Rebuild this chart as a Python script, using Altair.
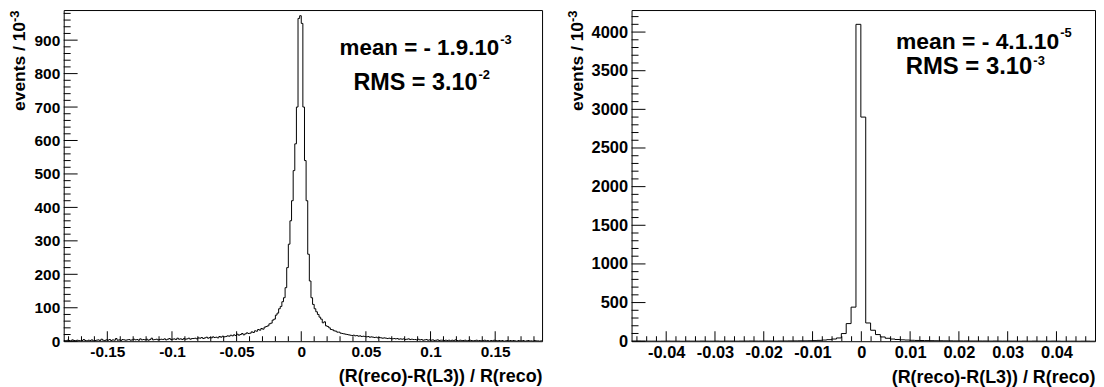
import altair as alt
import numpy as np
import pandas as pd

FONT = "Liberation Sans"
X_TITLE = "(R(reco)-R(L3)) / R(reco)"
Y_TITLE_MAIN = "events / 10"
Y_TITLE_SUP = "-3"

# ---------------- left histogram (296 bins of 0.00125) ----------------
left_lo, left_hi, left_bw = -0.18375, 0.18625, 0.00125
left_counts = [
    2, 1, 3, 2, 0, 4, 2, 1, 3, 2, 1, 2, 5, 2, 1, 3, 2, 4, 1, 2,
    3, 4, 2, 6, 3, 2, 4, 3, 5, 2, 4, 3, 8, 3, 4, 2, 5, 4, 3, 4,
    5, 3, 4, 6, 4, 5, 3, 7, 4, 5, 4, 6, 3, 5, 9, 4, 5, 6, 4, 5,
    6, 5, 7, 4, 6, 8, 5, 6, 7, 5, 9, 6, 7, 5, 8, 6, 7, 9, 6, 8,
    8, 9, 7, 10, 9, 11, 8, 10, 12, 9, 11, 10, 13, 11, 12, 10, 14, 12, 15, 13,
    14, 16, 15, 18, 16, 19, 17, 21, 18, 20, 23, 19, 22, 25, 23,
    24, 28, 26, 31, 30, 35, 33, 38, 36, 42, 44, 46, 52, 54, 63, 66, 78, 84, 97, 104,
    118, 130, 160, 220, 290, 360, 420, 510, 590, 700, 965, 973,
    950, 700, 540, 420, 260, 180, 130, 110, 97, 88,
    80, 72, 66, 55, 58, 46, 44, 40, 35, 34,
    31, 30, 27, 27, 24, 23, 22, 21, 20, 19,
    18, 17, 18, 16, 17, 15, 16, 14, 15, 14, 13, 14, 12, 13, 12, 11, 12, 10, 11, 10,
    9, 10, 9, 8, 9, 8, 7, 8, 7, 8, 6, 7, 6, 7, 5, 6, 7, 5, 6, 5,
    5, 4, 6, 4, 5, 3, 4, 5, 3, 4, 3, 4, 2, 3, 4, 2, 3, 3, 2, 3,
    2, 3, 1, 3, 2, 4, 2, 1, 3, 2, 2, 3, 1, 2, 3, 2, 1, 2, 3, 1,
    2, 1, 2, 3, 1, 2, 0, 2, 1, 3, 2, 1, 2, 1, 2, 0, 1, 2, 1, 2,
    1, 2, 1, 0, 2, 1, 1, 2, 0, 1, 2, 1, 1, 0, 2, 1, 1, 0, 1,
]
left_ymax = 990
left_x_labels = [-0.15, -0.1, -0.05, 0, 0.05, 0.1, 0.15]
left_y_labels = [0, 100, 200, 300, 400, 500, 600, 700, 800, 900]

# ---------------- right histogram (95 bins of 0.001) ----------------
right_lo, right_hi, right_bw = -0.0471, 0.0479, 0.001
right_counts = [
    0, 1, 0, 1, 1, 0, 1, 2, 1, 1, 0, 2, 1, 1, 2, 1, 1, 2, 1, 2,
    2, 1, 2, 2, 3, 2, 2, 3, 3, 2,
    3, 3, 4, 4, 5, 5, 6, 8, 11, 15, 20, 28, 42, 99, 228, 441,
    4100, 2900,
    236, 142, 86, 55, 38, 28, 22, 18, 15, 12,
    10, 9, 8, 7, 6, 6, 5, 5, 4, 4,
    4, 3, 3, 3, 3, 2, 3, 2, 2, 2,
    2, 1, 2, 1, 2, 1, 1, 1, 2, 1,
    0, 1, 1, 0, 1, 1, 0,
]
right_ymax = 4285
right_x_labels = [-0.04, -0.03, -0.02, -0.01, 0, 0.01, 0.02, 0.03, 0.04]
right_y_labels = [0, 500, 1000, 1500, 2000, 2500, 3000, 3500, 4000]


def hist_df(lo, bw, counts):
    edges = lo + bw * np.arange(len(counts) + 1)
    return pd.DataFrame({"x": edges, "y": list(counts) + [counts[-1]]})


def minor(lo, hi, step, majors):
    vals = np.round(np.arange(np.ceil(lo / step) * step, hi, step), 6)
    return [float(v) for v in vals if not np.any(np.isclose(v, majors, atol=step / 10)) and lo < v < hi]


def panel(counts, lo, hi, bw, ymax, xmaj, xstep, ymaj, ystep, w, h, lab_fs, title_x, notes):
    xsc = alt.Scale(domain=[lo, hi], nice=False, zero=False)
    ysc = alt.Scale(domain=[0, ymax], nice=False, zero=True)
    xaxis = alt.Axis(
        values=xmaj, ticks=False, domain=False, grid=False,
        labelExpr="replace(format(datum.value, '~g'), '\u2212', '-')",
        labelFont=FONT, labelFontWeight="bold", labelFontSize=lab_fs, labelColor="black",
        labelPadding=3, labelFlush=False, labelOverlap=False,
        title=X_TITLE, titleFont=FONT, titleFontWeight="bold", titleFontSize=18,
        titleColor="black", titleAnchor="end", titleAlign="right", titlePadding=8,
    )
    yaxis = alt.Axis(
        values=ymaj, format="d", ticks=False, domain=False, grid=False,
        labelFont=FONT, labelFontWeight="bold", labelFontSize=lab_fs, labelColor="black",
        labelPadding=4, labelOverlap=False, labelFlush=False, title=None,
    )
    hist = alt.Chart(hist_df(lo, bw, counts)).mark_line(
        interpolate="step-after", color="black", strokeWidth=1, clip=True
    ).encode(x=alt.X("x:Q", scale=xsc, axis=xaxis), y=alt.Y("y:Q", scale=ysc, axis=yaxis))

    layers = [hist]
    for vals, ln in [(xmaj, 10), (minor(lo, hi, xstep, xmaj), 5)]:
        layers.append(
            alt.Chart(pd.DataFrame({"x": vals})).mark_rule(color="black", strokeWidth=1).encode(
                x=alt.X("x:Q", scale=xsc, axis=xaxis), y=alt.value(h), y2=alt.value(h - ln)
            )
        )
    for vals, ln in [(ymaj, 14), (minor(0, ymax, ystep, ymaj), 7)]:
        layers.append(
            alt.Chart(pd.DataFrame({"y": vals})).mark_rule(color="black", strokeWidth=1).encode(
                y=alt.Y("y:Q", scale=ysc, axis=yaxis), x=alt.value(0), x2=alt.value(ln)
            )
        )
    one = pd.DataFrame({"a": [0]})
    # y-axis title with a real superscript, rotated
    all_notes = list(notes) + [
        (Y_TITLE_MAIN, title_x, 12, 17.5, "right", 270),
        (Y_TITLE_SUP, title_x - 6.5, 12, 13, "left", 270),
    ]
    for s, x, y, fs, align, ang in all_notes:
        layers.append(
            alt.Chart(one).mark_text(
                text=s, font=FONT, fontWeight="bold", fontSize=fs, align=align,
                baseline="alphabetic", color="black", angle=ang
            ).encode(x=alt.value(x), y=alt.value(y))
        )
    return alt.layer(*layers).properties(width=w, height=h)


left = panel(
    left_counts, left_lo, left_hi, left_bw, left_ymax, left_x_labels, 0.01,
    left_y_labels, 20, 481, 333, 15.5, -38.5,
    [("mean = - 1.9.10", 438, 45, 22.5, "right", 0), ("-3", 439, 34, 13, "left", 0),
     ("RMS = 3.10", 416, 80, 23.5, "right", 0), ("-2", 417, 69, 13, "left", 0)],
)
right = panel(
    right_counts, right_lo, right_hi, right_bw, right_ymax, right_x_labels, 0.002,
    right_y_labels, 100, 466, 333, 16.5, -48.5,
    [("mean = - 4.1.10", 430, 39, 23, "right", 0), ("-5", 431, 27, 13, "left", 0),
     ("RMS = 3.10", 403, 64, 24, "right", 0), ("-3", 404, 55, 13, "left", 0)],
)

chart = (
    alt.hconcat(left, right, spacing=23)
    .properties(padding={"left": 0, "top": 0, "right": 0, "bottom": 0})
    .configure_view(stroke="black", strokeWidth=1)
)
chart.save("out.html", embed_options={"renderer": "svg", "actions": False})
